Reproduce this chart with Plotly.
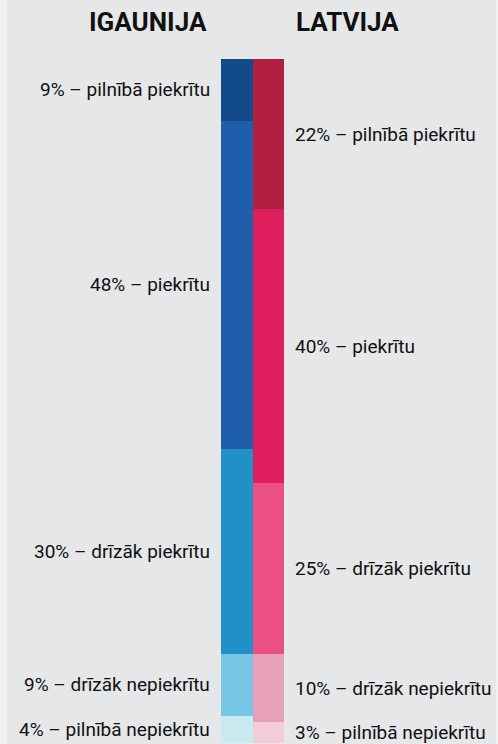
import plotly.graph_objects as go

countries = ["IGAUNIJA", "LATVIJA"]
categories = ["pilnībā piekrītu", "piekrītu", "drīzāk piekrītu", "drīzāk nepiekrītu", "pilnībā nepiekrītu"]
estonia = [9, 48, 30, 9, 4]
latvia = [22, 40, 25, 10, 3]
colors_ee = ["#134b8a", "#1f5eaa", "#2190c7", "#77c6e6", "#c9eaf1"]
colors_lv = ["#b3203f", "#df1f5d", "#eb5082", "#e6a0b9", "#f2ccd9"]

BG = "#e6e7e9"
FONT = "Roboto"

fig = go.Figure()
for i, cat in enumerate(categories):
    fig.add_trace(go.Bar(
        x=[0, 1], y=[estonia[i], latvia[i]],
        marker=dict(color=[colors_ee[i], colors_lv[i]], line=dict(width=0)),
        width=1, name=cat, showlegend=False, hoverinfo="skip",
    ))

annotations = []
for vals, side in ((estonia, 0), (latvia, 1)):
    cum = 0
    for v, cat in zip(vals, categories):
        mid = cum + v / 2
        cum += v
        annotations.append(dict(
            x=-0.5 if side == 0 else 1.5, y=mid, xref="x", yref="y",
            text=f"{v}% – {cat}", showarrow=False,
            xanchor="right" if side == 0 else "left", yanchor="middle",
            xshift=-9 if side == 0 else 9,
            font=dict(family=FONT, size=19, color="#111111"),
        ))

for idx, name in enumerate(countries):
    annotations.append(dict(
        x=-0.5 if idx == 0 else 1.5, y=1.054, xref="x", yref="paper",
        text=f"<b>{name}</b>", showarrow=False,
        xanchor="right" if idx == 0 else "left", yanchor="middle",
        xshift=-12 if idx == 0 else 10,
        font=dict(family=FONT, size=26, color="#111111"),
    ))

fig.update_layout(
    width=498, height=744,
    margin=dict(l=0, r=0, t=59, b=1),
    paper_bgcolor=BG, plot_bgcolor=BG,
    barmode="stack", bargap=0,
    xaxis=dict(range=[-7.516, 8.29], visible=False, fixedrange=True),
    yaxis=dict(range=[100, 0], visible=False, fixedrange=True),
    annotations=annotations,
    shapes=[
        dict(type="rect", xref="paper", yref="paper", x0=0, x1=7 / 498, y0=-0.01, y1=1.1,
             fillcolor="#f2f2f3", line=dict(width=0), layer="below"),
        dict(type="rect", xref="paper", yref="paper", x0=496 / 498, x1=1, y0=-0.01, y1=1.1,
             fillcolor="#f2f2f3", line=dict(width=0), layer="below"),
    ],
)

fig.write_html("out.html", config={"displayModeBar": False})
